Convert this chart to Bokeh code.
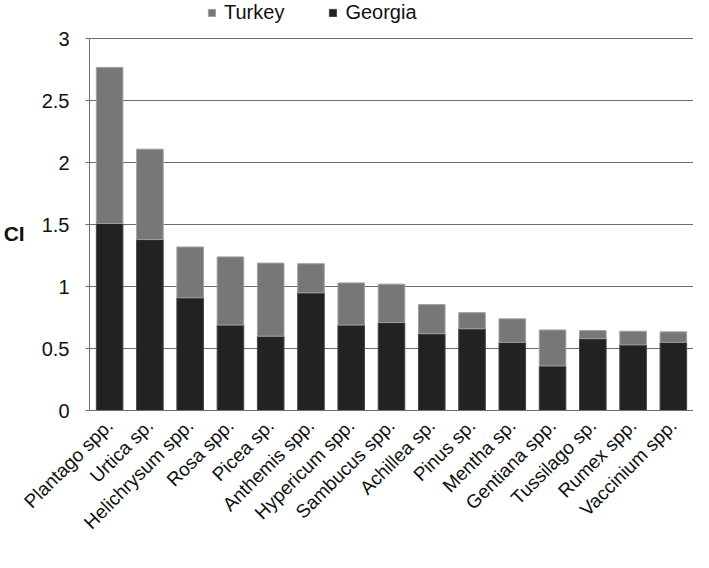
import math
from bokeh.plotting import figure
from bokeh.models import ColumnDataSource, Legend, LegendItem, FixedTicker, Range1d
from bokeh.embed import file_html
from bokeh.resources import INLINE

categories = ["Plantago spp.", "Urtica sp.", "Helichrysum spp.", "Rosa spp.", "Picea sp.",
              "Anthemis spp.", "Hypericum spp.", "Sambucus spp.", "Achillea sp.", "Pinus sp.",
              "Mentha sp.", "Gentiana spp.", "Tussilago sp.", "Rumex spp.", "Vaccinium spp."]
georgia = [1.51, 1.38, 0.91, 0.69, 0.60, 0.95, 0.69, 0.71, 0.62, 0.66, 0.55, 0.36, 0.58, 0.53, 0.55]
totals = [2.77, 2.11, 1.32, 1.24, 1.19, 1.185, 1.03, 1.02, 0.855, 0.79, 0.74, 0.65, 0.645, 0.64, 0.635]
turkey = [round(t - g, 3) for t, g in zip(totals, georgia)]
y_ticks = [0, 0.5, 1, 1.5, 2, 2.5, 3]

FONT = "Liberation Sans"

src = ColumnDataSource(dict(cat=categories, Georgia=georgia, Turkey=turkey))

# extra headroom above 3 holds the legend (axis line limited to 0..3)
p = figure(x_range=categories, y_range=Range1d(0, 3.31), width=693, height=552,
           output_backend="svg", toolbar_location=None,
           min_border_left=85, min_border_right=0, min_border_top=0, min_border_bottom=142)

r = p.vbar_stack(["Georgia", "Turkey"], x="cat", width=0.66, source=src,
                 color=["#222222", "#777777"], line_color=["#444444", "#a0a0a0"], line_width=1)

p.outline_line_color = None
p.xgrid.grid_line_color = None
p.ygrid.grid_line_color = "#6e6e6e"
p.ygrid.grid_line_width = 1

p.yaxis.ticker = FixedTicker(ticks=y_ticks)
p.yaxis.bounds = (0, 3)
p.yaxis.major_label_overrides = {0: "0", 0.5: "0.5", 1: "1", 1.5: "1.5", 2: "2", 2.5: "2.5", 3: "3"}
p.yaxis.axis_line_color = "#6e6e6e"
p.yaxis.major_tick_line_color = "#6e6e6e"
p.yaxis.major_tick_out = 4
p.yaxis.major_tick_in = 0
p.yaxis.minor_tick_line_color = None
p.yaxis.major_label_standoff = 16
p.yaxis.major_label_text_font = FONT
p.yaxis.major_label_text_font_size = "20px"
p.yaxis.major_label_text_color = "#111111"
p.yaxis.axis_label = "\n\nCI"
p.yaxis.axis_label_orientation = "horizontal"
p.yaxis.axis_label_text_font = FONT
p.yaxis.axis_label_text_font_style = "bold"
p.yaxis.axis_label_text_font_size = "21px"
p.yaxis.axis_label_text_line_height = 1.2
p.yaxis.axis_label_standoff = 14
p.yaxis.axis_label_text_color = "#111111"

p.xaxis.axis_line_color = "#6e6e6e"
p.xaxis.major_tick_line_color = None
p.xaxis.major_label_orientation = math.pi / 4
p.xaxis.major_label_text_font = FONT
p.xaxis.major_label_text_font_size = "19px"
p.xaxis.major_label_text_color = "#111111"
p.xaxis.major_label_standoff = 6
p.x_range.range_padding = 0

legend = Legend(items=[LegendItem(label="Turkey", renderers=[r[1]]),
                       LegendItem(label="Georgia", renderers=[r[0]])],
                orientation="horizontal", location=(118, 386),
                glyph_width=9, glyph_height=9, label_standoff=8, spacing=44,
                label_text_font=FONT, label_text_font_size="20px",
                label_text_color="#111111", border_line_color=None,
                background_fill_alpha=0, padding=0, margin=0)
p.add_layout(legend, "center")

open("out.html", "w").write(file_html(p, INLINE))
